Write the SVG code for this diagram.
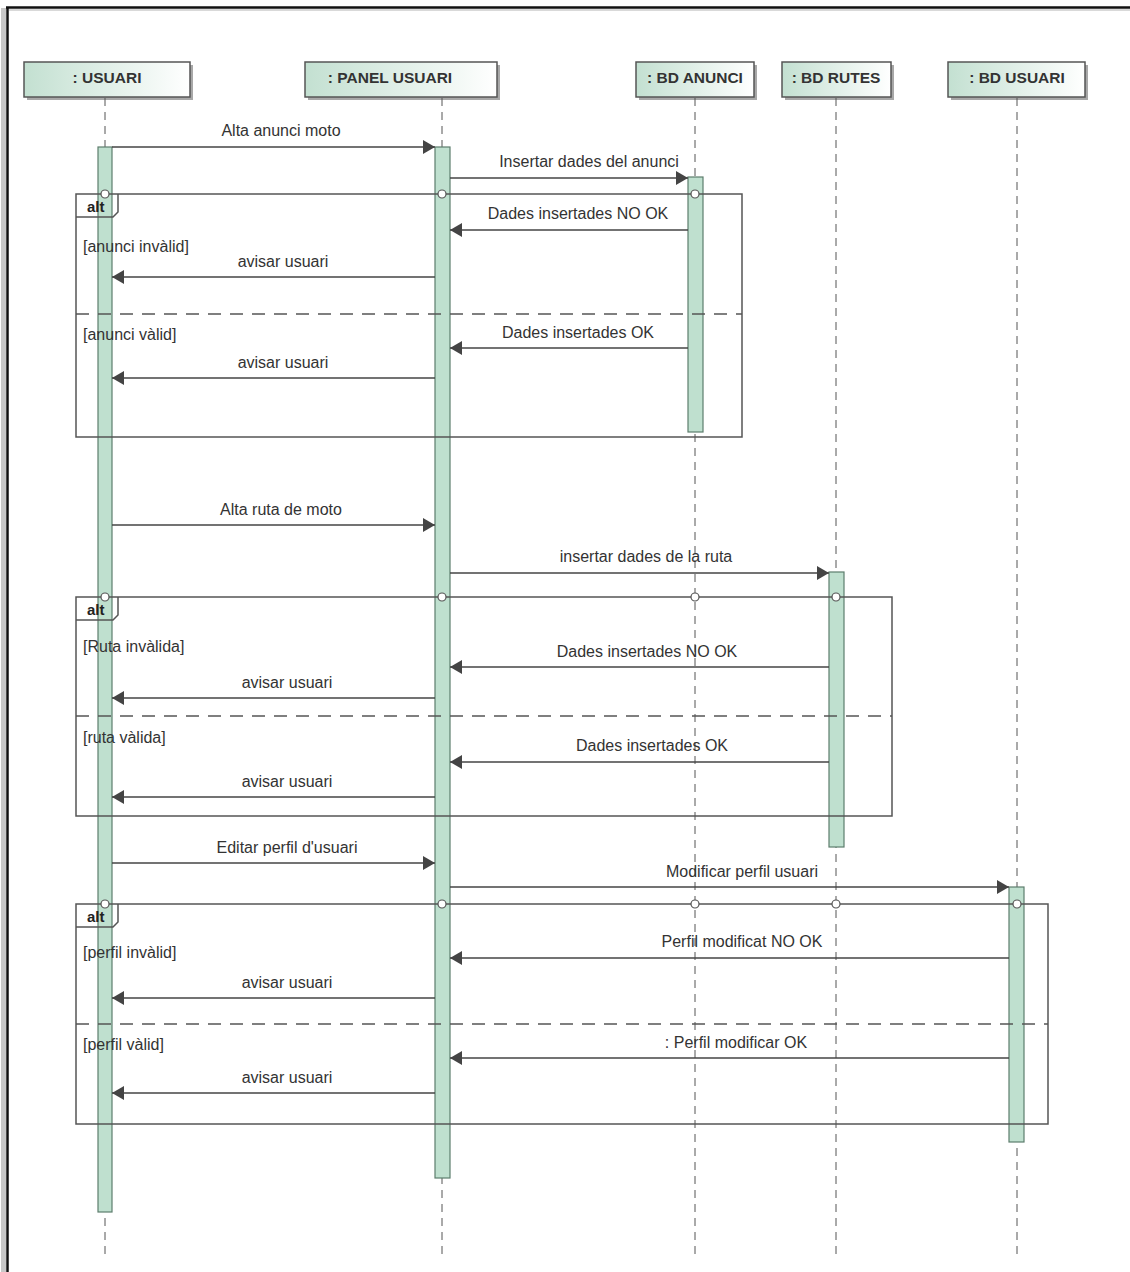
<svg xmlns="http://www.w3.org/2000/svg" width="1130" height="1272" viewBox="0 0 1130 1272">
  <defs>
    <linearGradient id="hdr" x1="0" y1="0" x2="1" y2="0">
      <stop offset="0" stop-color="#c3e0d1"/>
      <stop offset="1" stop-color="#ffffff"/>
    </linearGradient>
    <marker id="arr" markerUnits="userSpaceOnUse" markerWidth="13" markerHeight="14" refX="12" refY="7" orient="auto">
      <path d="M0,0 L12,7 L0,14 z" fill="#444"/>
    </marker>
    <style>
      .hbox { fill: url(#hdr); stroke: #555; stroke-width: 1.5; }
      .hsh { fill: #a8a8a8; }
      .htxt { font-family: "Liberation Sans", Arial, sans-serif; font-weight: bold; font-size: 15.5px; fill: #333; text-anchor: middle; }
      .life { stroke: #555; stroke-width: 1; stroke-dasharray: 8 6; fill: none; }
      .bar { fill: #bfe0cf; stroke: #5d7d6d; stroke-width: 1.2; }
      .msg { stroke: #444; stroke-width: 1.5; fill: none; marker-end: url(#arr); }
      .lbl { font-family: "Liberation Sans", Arial, sans-serif; font-size: 16px; fill: #333; text-anchor: middle; }
      .grd { font-family: "Liberation Sans", Arial, sans-serif; font-size: 16px; fill: #333; }
      .frm { fill: none; stroke: #555; stroke-width: 1.5; }
      .sep { stroke: #555; stroke-width: 1.5; stroke-dasharray: 13 9; fill: none; }
      .alt { font-family: "Liberation Sans", Arial, sans-serif; font-weight: bold; font-size: 15px; fill: #222; }
      .dot { fill: #fff; stroke: #555; stroke-width: 1.2; }
    </style>
  </defs>
  <rect width="1130" height="1272" fill="#ffffff"/>
  <!-- page frame -->
  <rect x="1" y="8" width="5" height="1264" fill="#c8c8c8"/>
  <line x1="7.5" y1="7" x2="7.5" y2="1272" stroke="#111" stroke-width="2.5"/>
  <line x1="6" y1="7.5" x2="1130" y2="7.5" stroke="#111" stroke-width="2.5"/>
  <line x1="9" y1="10" x2="1130" y2="10" stroke="#ccc" stroke-width="1.5"/>

  <!-- lifeline heads and lines -->
  <g id="node-usuari">
    <rect class="hsh" x="27" y="65" width="166" height="35"/>
    <rect class="hbox" x="24" y="62" width="166" height="35"/>
    <text class="htxt" x="107" y="83">: USUARI</text>
    <line class="life" x1="105" y1="98" x2="105" y2="1256"/>
  </g>
  <g id="node-panel-usuari">
    <rect class="hsh" x="308" y="65" width="192" height="35"/>
    <rect class="hbox" x="305" y="62" width="192" height="35"/>
    <text class="htxt" x="390" y="83">: PANEL USUARI</text>
    <line class="life" x1="442" y1="98" x2="442" y2="1256"/>
  </g>
  <g id="node-bd-anunci">
    <rect class="hsh" x="639" y="65" width="118" height="35"/>
    <rect class="hbox" x="636" y="62" width="118" height="35"/>
    <text class="htxt" x="695" y="83">: BD ANUNCI</text>
    <line class="life" x1="695" y1="98" x2="695" y2="1256"/>
  </g>
  <g id="node-bd-rutes">
    <rect class="hsh" x="785" y="65" width="109" height="35"/>
    <rect class="hbox" x="782" y="62" width="109" height="35"/>
    <text class="htxt" x="836" y="83">: BD RUTES</text>
    <line class="life" x1="836" y1="98" x2="836" y2="1256"/>
  </g>
  <g id="node-bd-usuari">
    <rect class="hsh" x="951" y="65" width="137" height="35"/>
    <rect class="hbox" x="948" y="62" width="137" height="35"/>
    <text class="htxt" x="1017" y="83">: BD USUARI</text>
    <line class="life" x1="1017" y1="98" x2="1017" y2="1256"/>
  </g>

  <!-- activation bars -->
  <g id="activations">
    <rect class="bar" x="98" y="147" width="14" height="1065"/>
    <rect class="bar" x="435" y="147" width="15" height="1031"/>
    <rect class="bar" x="688" y="177" width="15" height="255"/>
    <rect class="bar" x="829" y="572" width="15" height="275"/>
    <rect class="bar" x="1009" y="887" width="15" height="255"/>
  </g>

  <!-- combined fragments -->
  <g id="frag-alt-1">
    <rect class="frm" x="76" y="194" width="666" height="243"/>
    <path class="frm" d="M76,217 H113 L118,212 V194"/>
    <line class="sep" x1="76" y1="314" x2="742" y2="314"/>
    <text class="alt" x="87" y="212">alt</text>
    <text class="grd" x="83" y="252">[anunci invàlid]</text>
    <text class="grd" x="83" y="340">[anunci vàlid]</text>
  </g>
  <g id="frag-alt-2">
    <rect class="frm" x="76" y="597" width="816" height="219"/>
    <path class="frm" d="M76,620 H113 L118,615 V597"/>
    <line class="sep" x1="76" y1="716" x2="892" y2="716"/>
    <text class="alt" x="87" y="615">alt</text>
    <text class="grd" x="83" y="652">[Ruta invàlida]</text>
    <text class="grd" x="83" y="743">[ruta vàlida]</text>
  </g>
  <g id="frag-alt-3">
    <rect class="frm" x="76" y="904" width="972" height="220"/>
    <path class="frm" d="M76,927 H113 L118,922 V904"/>
    <line class="sep" x1="76" y1="1024" x2="1048" y2="1024"/>
    <text class="alt" x="87" y="922">alt</text>
    <text class="grd" x="83" y="958">[perfil invàlid]</text>
    <text class="grd" x="83" y="1050">[perfil vàlid]</text>
  </g>

  <!-- messages -->
  <g id="connectors">
    <line class="msg" x1="112" y1="147" x2="435" y2="147"/>
    <text class="lbl" x="281" y="136">Alta anunci moto</text>
    <line class="msg" x1="450" y1="178" x2="688" y2="178"/>
    <text class="lbl" x="589" y="167">Insertar dades del anunci</text>
    <line class="msg" x1="688" y1="230" x2="450" y2="230"/>
    <text class="lbl" x="578" y="219">Dades insertades NO OK</text>
    <line class="msg" x1="435" y1="277" x2="112" y2="277"/>
    <text class="lbl" x="283" y="267">avisar usuari</text>
    <line class="msg" x1="688" y1="348" x2="450" y2="348"/>
    <text class="lbl" x="578" y="338">Dades insertades OK</text>
    <line class="msg" x1="435" y1="378" x2="112" y2="378"/>
    <text class="lbl" x="283" y="368">avisar usuari</text>

    <line class="msg" x1="112" y1="525" x2="435" y2="525"/>
    <text class="lbl" x="281" y="515">Alta ruta de moto</text>
    <line class="msg" x1="450" y1="573" x2="829" y2="573"/>
    <text class="lbl" x="646" y="562">insertar dades de la ruta</text>
    <line class="msg" x1="829" y1="667" x2="450" y2="667"/>
    <text class="lbl" x="647" y="657">Dades insertades NO OK</text>
    <line class="msg" x1="435" y1="698" x2="112" y2="698"/>
    <text class="lbl" x="287" y="688">avisar usuari</text>
    <line class="msg" x1="829" y1="762" x2="450" y2="762"/>
    <text class="lbl" x="652" y="751">Dades insertades OK</text>
    <line class="msg" x1="435" y1="797" x2="112" y2="797"/>
    <text class="lbl" x="287" y="787">avisar usuari</text>

    <line class="msg" x1="112" y1="863" x2="435" y2="863"/>
    <text class="lbl" x="287" y="853">Editar perfil d'usuari</text>
    <line class="msg" x1="450" y1="887" x2="1009" y2="887"/>
    <text class="lbl" x="742" y="877">Modificar perfil usuari</text>
    <line class="msg" x1="1009" y1="958" x2="450" y2="958"/>
    <text class="lbl" x="742" y="947">Perfil modificat NO OK</text>
    <line class="msg" x1="435" y1="998" x2="112" y2="998"/>
    <text class="lbl" x="287" y="988">avisar usuari</text>
    <line class="msg" x1="1009" y1="1058" x2="450" y2="1058"/>
    <text class="lbl" x="736" y="1048">: Perfil modificar OK</text>
    <line class="msg" x1="435" y1="1093" x2="112" y2="1093"/>
    <text class="lbl" x="287" y="1083">avisar usuari</text>
  </g>

  <!-- fragment/lifeline crossing points -->
  <g id="crossings">
    <circle class="dot" cx="105" cy="194" r="4"/>
    <circle class="dot" cx="442" cy="194" r="4"/>
    <circle class="dot" cx="695" cy="194" r="4"/>
    <circle class="dot" cx="105" cy="597" r="4"/>
    <circle class="dot" cx="442" cy="597" r="4"/>
    <circle class="dot" cx="695" cy="597" r="4"/>
    <circle class="dot" cx="836" cy="597" r="4"/>
    <circle class="dot" cx="105" cy="904" r="4"/>
    <circle class="dot" cx="442" cy="904" r="4"/>
    <circle class="dot" cx="695" cy="904" r="4"/>
    <circle class="dot" cx="836" cy="904" r="4"/>
    <circle class="dot" cx="1017" cy="904" r="4"/>
  </g>
</svg>
